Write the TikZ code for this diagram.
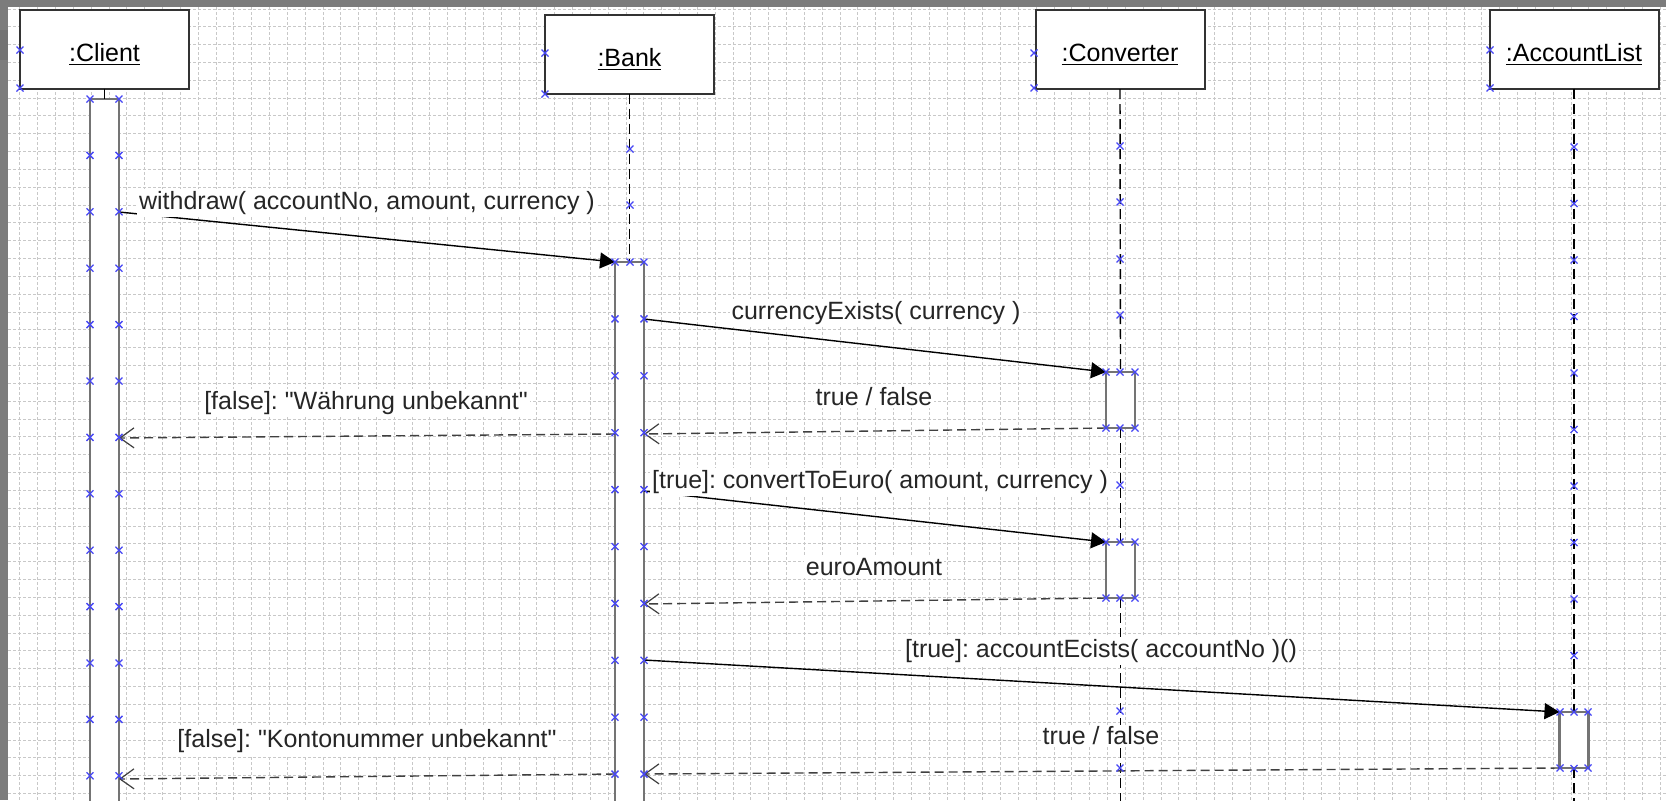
\documentclass[tikz,border=0pt]{standalone}
\usepackage{fontspec}
\setmainfont{Liberation Sans}[Ligatures=TeXOff]
\usetikzlibrary{arrows.meta}
\definecolor{gridgray}{HTML}{C8C8C8}
\definecolor{framegray}{HTML}{7C7C7C}
\definecolor{handleblue}{HTML}{4646F5}
\definecolor{barline}{HTML}{747474}
\tikzset{
  objbox/.style={draw=black!80, fill=white, line width=1pt, minimum width=84.5pt, minimum height=39.5pt,
    inner sep=0pt, outer sep=0pt, text height=12pt, text depth=0pt, font=\fontsize{12.5}{15}\selectfont},
  actbar/.style={draw=barline, fill=white, line width=1.2pt, minimum width=14.5pt, inner sep=0pt, outer sep=0pt, anchor=north},
  lifeline/.style={draw=black, line width=0.7pt, dash pattern=on 5pt off 2.5pt},
  call/.style={-{Triangle[length=7.5pt,width=8pt]}, draw=black, line width=0.7pt},
  reply/.style={-{Straight Barb[length=7pt,width=10pt,line width=0.6pt]}, draw=black!75, line width=0.7pt,
    dash pattern=on 4.5pt off 2.5pt},
  msg/.style={fill=white, inner sep=1pt, font=\fontsize{12.5}{15}\selectfont, text=black!85},
  gridline/.style={draw=gridgray, line width=0.5pt, dash pattern=on 1.5pt off 1pt},
  handle/.style={draw=handleblue, line width=0.65pt}
}
\newcommand{\hx}[2]{\draw[handle] (#1,#2) +(-3.5,-3.5) -- +(3.5,3.5) +(-3.5,3.5) -- +(3.5,-3.5);}

\begin{document}
\frenchspacing
\begin{tikzpicture}[x=0.5pt, y=-0.5pt]
\useasboundingbox (0,0) rectangle (1666,800);
\clip (0,0) rectangle (1666,800);
\fill[white] (0,0) rectangle (1666,800);
% grid
\foreach \i in {0,...,92} {\draw[gridline] ({19.9+17.83*\i},7) -- ({19.9+17.83*\i},800);}
\foreach \j in {0,...,44} {\draw[gridline] (8,{9+17.83*\j}) -- (1666,{9+17.83*\j});}
% window frame
\fill[framegray] (0,0) rectangle (1666,7);
\fill[framegray] (0,0) rectangle (8,800);
\fill[black!55] (0,30) rectangle (8,60);

% objects
\node[objbox] (client) at (104.5,49) {\underline{:Client}};
\node[objbox] (bank) at (629.5,54) {\underline{:Bank}};
\node[objbox] (conv) at (1120,49.5) {\underline{:Converter}};
\node[objbox] (acclist) at (1574,49) {\underline{:AccountList}};

% activations
\node[actbar, minimum height=353pt] (clientbar) at (104.5,99) {};
\node[actbar, minimum height=271.5pt] (bankbar) at (629.5,262) {};
\node[actbar, minimum height=28pt] (conv1) at (1120.5,372) {};
\node[actbar, minimum height=28pt] (conv2) at (1120.5,542) {};
\node[actbar, minimum height=28pt] (acc1) at (1574,712) {};
\coordinate (convend) at (1120.5,805);
\coordinate (accend) at (1574,805);

% lifelines
\draw[lifeline] (client.south) -- (clientbar.north);
\draw[lifeline] (bank.south) -- (bankbar.north);
\draw[lifeline] (conv.south) -- (conv1.north);
\draw[lifeline] (conv1.south) -- (conv2.north);
\draw[lifeline] (conv2.south) -- (convend);
\draw[lifeline] (acclist.south) -- (acc1.north);
\draw[lifeline] (acc1.south) -- (accend);

% messages
\draw[call] (clientbar.east |- 0,212) -- (bankbar.north west);
\draw[call] (bankbar.east |- 0,319) -- (conv1.north west);
\draw[reply] (conv1.south west) -- (bankbar.east |- 0,434);
\draw[reply] (bankbar.west |- 0,434) -- (clientbar.east |- 0,438);
\draw[call] (bankbar.east |- 0,491) -- (conv2.north west);
\draw[reply] (conv2.south west) -- (bankbar.east |- 0,604);
\draw[call] (bankbar.east |- 0,660) -- (acc1.north west);
\draw[reply] (acc1.south west) -- (bankbar.east |- 0,774);
\draw[reply] (bankbar.west |- 0,774) -- (clientbar.east |- 0,779);

% selection handles
\hx{20}{50} \hx{20}{88} \hx{545}{53} \hx{545}{94}
\hx{1034}{53} \hx{1034}{88} \hx{1490}{50} \hx{1490}{88}
\foreach \k in {0,...,12} {\hx{90}{99+56.4*\k} \hx{119}{99+56.4*\k}}
\foreach \k in {0,...,9} {\hx{615}{262+56.9*\k} \hx{644}{262+56.9*\k}}
\foreach \y in {149,205,262} {\hx{630}{\y}}
\foreach \y in {146,202,259,315,372,428,485,542,598,655,711,768} {\hx{1120}{\y}}
\foreach \y in {372,428,542,598} {\hx{1106}{\y} \hx{1135}{\y}}
\foreach \k in {0,...,11} {\hx{1574}{147+56.5*\k}}
\foreach \y in {712,768} {\hx{1560}{\y} \hx{1588}{\y}}

% labels
\node[msg] (lwithdraw) at (367,203) {withdraw( accountNo, amount, currency )};
\node[msg] (lexists) at (876,313) {currencyExists( currency )};
\node[msg] (lexistsret) at (874,397) {true / false};
\node[msg] (lnocurr) at (366,403) {[false]: "Währung unbekannt"};
\node[msg] (lconvert) at (880,482) {[true]: convertToEuro( amount, currency )};
\node[msg] (lconvertret) at (874,567) {euroAmount};
\node[msg] (laccount) at (1101,651) {[true]: accountEcists( accountNo )()};
\node[msg] (laccountret) at (1101,736) {true / false};
\node[msg] (lnoacc) at (367,741) {[false]: "Kontonummer unbekannt"};
\end{tikzpicture}
\end{document}
